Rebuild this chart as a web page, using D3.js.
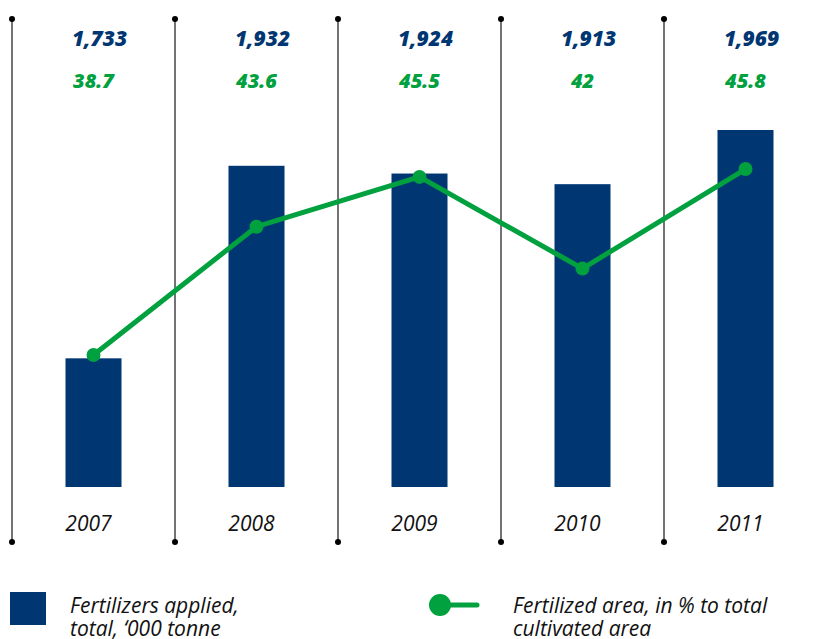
<!DOCTYPE html>
<html>
<head>
<meta charset="utf-8">
<script src="https://cdn.jsdelivr.net/npm/d3@7/dist/d3.min.js"></script>
<style>
  html, body { margin: 0; padding: 0; background: #fff; }
  svg { display: block; }
  text { font-family: "Open Sans", "Noto Sans", sans-serif; }
</style>
</head>
<body>
<svg id="chart" width="818" height="639"></svg>
<script>
// Chart data
const years = ["2007", "2008", "2009", "2010", "2011"];
const fertilizersApplied = [1733, 1932, 1924, 1913, 1969];   // '000 tonne
const fertilizedShare = [38.7, 43.6, 45.5, 42, 45.8];        // % of cultivated area
const barLabels = ["1,733", "1,932", "1,924", "1,913", "1,969"];
const lineLabels = ["38.7", "43.6", "45.5", "42", "45.8"];
const legendLabels = [
  ["Fertilizers applied,", "total, \u2018000 tonne"],
  ["Fertilized area, in % to total", "cultivated area"]
];

const BLUE = "#003671";
const GREEN = "#00a13e";

const svg = d3.select("#chart");

const x = d3.scaleBand().domain(years).range([12, 827]).padding(0);
const yBar = d3.scaleLinear().domain([1600, 2000]).range([487, 100]);
const yLine = d3.scaleLinear().domain([30, 50]).range([583, 59]);

const barW = 56;
const cx = d => x(d) + x.bandwidth() / 2;

// column separators with end dots
const seps = svg.append("g");
years.forEach(yr => {
  const sx = x(yr);
  seps.append("line").attr("x1", sx).attr("x2", sx).attr("y1", 19).attr("y2", 542)
    .attr("stroke", "#444").attr("stroke-width", 1.5);
  [19, 542].forEach(yy => seps.append("circle").attr("cx", sx).attr("cy", yy).attr("r", 3).attr("fill", "#000"));
});

// bars
svg.append("g").selectAll("rect").data(years).join("rect")
  .attr("x", d => cx(d) - barW / 2)
  .attr("y", (d, i) => yBar(fertilizersApplied[i]))
  .attr("width", barW)
  .attr("height", (d, i) => yBar(1600) - yBar(fertilizersApplied[i]))
  .attr("fill", BLUE);

// line
const line = d3.line().x((d, i) => cx(years[i])).y(d => yLine(d));
svg.append("path").datum(fertilizedShare)
  .attr("d", line).attr("fill", "none").attr("stroke", GREEN)
  .attr("stroke-width", 5).attr("stroke-linejoin", "round");
svg.append("g").selectAll("circle").data(fertilizedShare).join("circle")
  .attr("cx", (d, i) => cx(years[i])).attr("cy", d => yLine(d)).attr("r", 7).attr("fill", GREEN);

// value labels
svg.append("g").selectAll("text").data(barLabels).join("text")
  .attr("x", (d, i) => cx(years[i]) + 6).attr("y", 46)
  .attr("text-anchor", "middle").attr("font-size", 21).attr("font-weight", 800)
  .attr("font-style", "italic").attr("fill", BLUE).text(d => d);
svg.append("g").selectAll("text").data(lineLabels).join("text")
  .attr("x", (d, i) => cx(years[i])).attr("y", 88)
  .attr("text-anchor", "middle").attr("font-size", 20).attr("font-weight", 800)
  .attr("font-style", "italic").attr("fill", GREEN).text(d => d);

// year labels
svg.append("g").selectAll("text").data(years).join("text")
  .attr("x", d => cx(d) - 5).attr("y", 531)
  .attr("text-anchor", "middle").attr("font-size", 21)
  .attr("font-style", "italic").attr("fill", "#111").text(d => d);

// legend
const lg = svg.append("g");
lg.append("rect").attr("x", 10).attr("y", 592).attr("width", 36).attr("height", 33).attr("fill", BLUE);
lg.append("line").attr("x1", 440).attr("x2", 477).attr("y1", 605).attr("y2", 605)
  .attr("stroke", GREEN).attr("stroke-width", 5).attr("stroke-linecap", "round");
lg.append("circle").attr("cx", 440).attr("cy", 605).attr("r", 11).attr("fill", GREEN);

[[70, legendLabels[0]], [513, legendLabels[1]]].forEach(([lx, lines]) => {
  const t = lg.append("text").attr("x", lx).attr("y", 613)
    .attr("font-size", 21).attr("font-style", "italic").attr("fill", "#111");
  lines.forEach((s, k) => t.append("tspan").attr("x", lx).attr("dy", k === 0 ? 0 : 23).text(s));
});
</script>
</body>
</html>
